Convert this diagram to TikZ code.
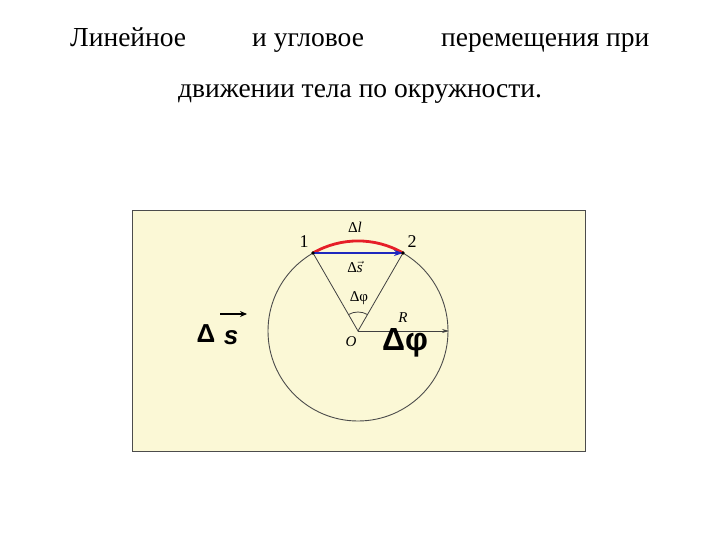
\documentclass[tikz,border=0pt]{standalone}
\usepackage{fontspec}
\setmainfont{Liberation Serif}
\newfontfamily\bigsans{Liberation Sans}
\usetikzlibrary{arrows.meta}
\definecolor{paleyellow}{RGB}{251,248,214}
\definecolor{arcred}{RGB}{230,30,40}
\definecolor{chordblue}{RGB}{30,40,190}
\begin{document}
\begin{tikzpicture}[x=1pt,y=-1pt,
  title/.style={font=\fontsize{27.5}{32}\selectfont, inner sep=0pt, anchor=base west},
  lbl/.style={font=\fontsize{15}{17}\selectfont, inner sep=0pt},
  numlbl/.style={font=\fontsize{18}{20}\selectfont, inner sep=0pt},
  biglbl/.style={font=\bigsans\bfseries\fontsize{26}{28}\selectfont, inner sep=0pt},
  radius line/.style={black!75, line width=0.8}]

\useasboundingbox (0,0) rectangle (720,540);

% title
\node[title] (t1) at (70,47) {Линейное};
\node[title] (t2) at (252,47) {и угловое};
\node[title] (t3) at (441,47) {перемещения при};
\node[title] (t4) at (178,98) {движении тела по окружности.};

% frame
\draw[fill=paleyellow, draw=black!70, line width=0.8] (132,210) rectangle (585,451);

\coordinate (O) at (358,331);
\coordinate (p1) at (313,253);
\coordinate (p2) at (403,253);
\coordinate (Rend) at (449,331);

\draw[black!70, line width=0.9] (O) circle[radius=90];

% radii and angle
\draw[radius line] (p1) -- (O) -- (p2);
\draw[radius line] (O) ++(-120:19) arc[start angle=-120, end angle=-60, radius=19];
\draw[radius line, -{Stealth[length=7pt,width=4pt]}] (O) -- (Rend);

% arc and chord
\draw[arcred, line width=2.8] (p1) arc[start angle=-120, end angle=-60, radius=90];
\draw[chordblue, line width=2.8, -{Stealth[length=9pt,width=6pt]}] (p1) -- (p2);
\fill[black] (p1) circle[radius=1.8] (p2) circle[radius=1.8];

% labels
\node[numlbl] (n1) at (304,242) {1};
\node[numlbl] (n2) at (412,242) {2};
\node[lbl] (dl) at (355,227) {Δ\textit{l}};
\node[lbl] (ds) at (355,267) {Δ$\vec{\textit{s}}$};
\node[lbl] (dphi) at (359,298) {Δφ};
\node[lbl] (lR) at (403,318) {\textit{R}};
\node[lbl] (lO) at (351,342) {\textit{O}};

% big symbols
\node[biglbl] (bigD) at (206,334) {Δ};
\node[biglbl] (bigS) at (231,338) {\textit{s}};
\draw[black, line width=1.5, -{Stealth[length=7pt,width=6pt]}] (220,314) -- (247,314);
\node[biglbl, font=\bigsans\bfseries\fontsize{32}{34}\selectfont] (bigDphi) at (405,343) {Δφ};

\end{tikzpicture}
\end{document}
